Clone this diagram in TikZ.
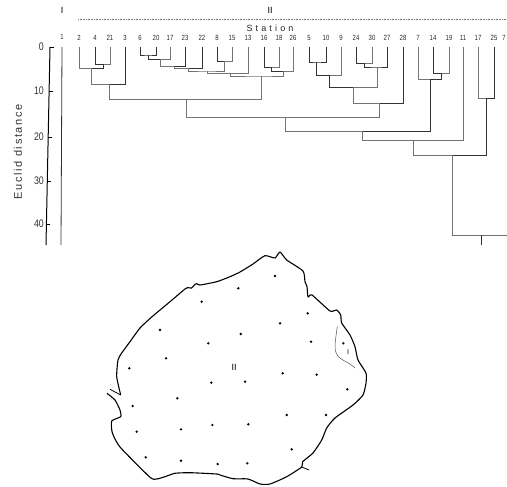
\documentclass[tikz,border=0pt]{standalone}
\usepackage{fontspec}
\setsansfont{Liberation Sans}
\usetikzlibrary{calc}
\def\drawtree{\draw[color=black!55, line width=0.7pt]}
\def\drawdark{\draw[color=black!80, line width=0.8pt]}
\def\drawcoast{\draw[color=black, line width=1.1pt, line join=round]}
\tikzset{
  leaf/.style={inner sep=0pt, color=black!85, font=\sffamily\fontsize{7.5}{7.5}\selectfont\addfontfeatures{FakeStretch=0.8}},
  tickno/.style={inner sep=0pt, anchor=east, color=black!80, font=\sffamily\fontsize{11}{11}\selectfont\addfontfeatures{FakeStretch=0.8}},
  roman/.style={inner sep=0pt, font=\sffamily\fontsize{9}{9}\selectfont},
  station/.style={circle, fill=black, inner sep=0pt, minimum size=2.6pt},
}
\begin{document}
\begin{tikzpicture}[x=1pt,y=-1pt]
\useasboundingbox (0,0) rectangle (507,487);

% ---------- heading and axis
\node[roman] (groupI) at (62,10) {I};
\node[roman] (groupII) at (270,10) {II};
\coordinate (rule_left) at (78,19);
\coordinate (rule_right) at (507,19);
\draw[color=black!55, line width=0.6pt, densely dotted] (rule_left) to (rule_right);
\node[inner sep=0pt, color=black!85, font=\sffamily\fontsize{9}{9}\selectfont\addfontfeatures{LetterSpace=35}] (title) at (270,28) {Station};
\node[rotate=90, inner sep=0pt, color=black!80, font=\sffamily\fontsize{11}{11}\selectfont\addfontfeatures{LetterSpace=15}] (ylabel) at (18,152) {Euclid distance};

\coordinate (axis_top) at (50,47);
\coordinate (axis_bot) at (46,245);
\draw[line width=1pt] (axis_top) to (axis_bot);
\foreach \val/\y/\xa in {0/47/50,10/91/49,20/137/48,30/181/47.5,40/224/46.5} {
  \node[tickno] (tick\val) at (44,\y) {\val};
  \coordinate (tick\val_a) at (\xa,\y);
  \coordinate (tick\val_b) at ($ (tick\val_a) + (3.5,0) $);
  \draw[line width=0.6pt] (tick\val_a) to (tick\val_b);
}

% the line under station 1
\node[leaf] (n1) at (62,37) {1};
\coordinate (s1) at (62,47);
\coordinate (s1_bot) at (61,245);
\drawdark (s1) to (s1_bot);

% ---------- station labels, stems start just below them
\foreach \id/\lab/\x in {2/2/79,4/4/95,21/21/110,3/3/125,6/6/140,20/20/156,17/17/170,
    23/23/185,22/22/202,8/8/217,15/15/232,13/13/248,16/16/264,18/18/279,26/26/293,
    5/5/309,10/10/326,9/9/341,24/24/356,30/30/372,27/27/387,28/28/403,
    7/7/418,14/14/433,19/19/449,11/11/463,17b/17/478,25/25/494,7b/7/504} {
  \node[leaf] (n\id) at (\x,38) {\lab};
  \coordinate (s\id) at (\x,47);
}

% ---------- left block
\coordinate (a1) at (103,64);
\drawdark (s4) |- (a1);
\drawtree (s21) |- (a1);
\coordinate (a2) at (91,68);
\drawtree (s2) |- (a2);
\drawdark (a1) |- (a2);
\coordinate (a3) at (109,84);
\drawtree (a2) |- (a3);
\drawdark (s3) |- (a3);

% ---------- the staircase 6 .. 13
\coordinate (b1) at (148,55);
\drawdark (s6) |- (b1) -| (s20);
\coordinate (b2) at (160,59);
\drawdark (b1) |- (b2);
\drawtree (s17) |- (b2);
\coordinate (b3) at (174,66);
\drawtree (b2) |- (b3);
\drawdark (s23) |- (b3);
\coordinate (b4) at (188,68);
\drawtree (b3) |- (b4);
\drawdark (s22) |- (b4);
\coordinate (b5) at (224,61);
\drawdark (s8) |- (b5);
\drawtree (s15) |- (b5);
\coordinate (b6) at (207,71);
\drawtree (b4) |- (b6) -| (b5);
\coordinate (b7) at (230,73);
\drawtree (b6) |- (b7);
\drawtree (s13) |- (b7);

% ---------- 16 18 26
\coordinate (c1) at (271,67);
\drawdark (s16) |- (c1);
\drawtree (s18) |- (c1);
\coordinate (c2) at (283,71);
\drawdark (c1) |- (c2);
\drawtree (s26) |- (c2);
\coordinate (c3) at (261,76);
\drawtree (b7) |- (c3) -| (c2);

% join of the two left blocks
\coordinate (d1) at (186,99);
\drawtree (a3) |- (d1);
\drawtree (c3) |- (d1);

% ---------- 5 .. 28
\coordinate (e1) at (316,62);
\drawdark (s5) |- (e1) -| (s10);
\coordinate (e2) at (329,75);
\drawdark (e1) |- (e2);
\drawtree (s9) |- (e2);
\coordinate (e3) at (364,63);
\drawdark (s24) |- (e3);
\drawtree (s30) |- (e3);
\coordinate (e4) at (377,67);
\drawdark (e3) |- (e4) -| (s27);
\coordinate (e5) at (353,87);
\drawdark (e2) |- (e5);
\drawtree (e4) |- (e5);
\coordinate (e6) at (379,103);
\drawtree (e5) |- (e6);
\drawdark (s28) |- (e6);

\coordinate (f1) at (285,117);
\drawtree (d1) |- (f1);
\drawtree (e6) |- (f1);

% ---------- 7 14 19 and the right side
\coordinate (g1) at (441,73);
\drawdark (s14) |- (g1);
\drawtree (s19) |- (g1);
\coordinate (g2) at (430,79);
\drawtree (s7) |- (g2);
\drawdark (g1) |- (g2);
\coordinate (h1) at (362,131);
\drawtree (f1) |- (h1);
\drawdark (g2) |- (h1);
\coordinate (h2) at (413,140);
\drawtree (h1) |- (h2);
\drawtree (s11) |- (h2);
\coordinate (g3) at (486,98);
\drawtree (s17b) |- (g3);
\drawdark (s25) |- (g3);
\coordinate (h3) at (452,155);
\drawtree (h2) |- (h3);
\drawdark (g3) |- (h3);
\coordinate (root) at (452,235);
\coordinate (root_end) at (507,235);
\coordinate (root_stem) at (481,235);
\coordinate (root_foot) at (481,245);
\drawtree (h3) to (root);
\drawtree (root) to (root_end);
\drawdark (root_stem) to (root_foot);

% ---------- the map
\drawcoast plot[smooth, tension=0.35] coordinates {
  (120.7,395) (116.7,376.7) (118,360) (121.7,353) (130,341.7) (140,328) (151.7,317)
  (170,301.7) (185,289) (188,287.7) (191.7,288) (195,284.3) (196.7,283.7) (200,285)
  (216.7,281.7) (230,276.7) (240,272) (253,264) (265,255.7) (275,258) (280,252)
  (286.7,260) (303,271) (305,281.7) (307,286.7) (308,297) (312,295) (330,311)
  (336.7,310) (340.7,315) (341.7,323) (350,335) (355,346.7) (358,360) (366,373)
  (366,383) (363,395) (353,405) (335,418) (326.7,428) (321.7,440) (313,453)
  (302.7,461.7) (301.7,467) (286.7,476.7) (270,484) (260,484) (248,479) (233,478.7)
  (220,475) (216.7,474) (190,472.7) (175,473.3) (165,476.7) (156.7,479) (150,477.3)
  (120,447) (112.3,432.7) (111.7,421) (120.7,416.7) (120,410) (115,400) (107,393.3)};
\coordinate (inlet_a) at (110,389.3);
\coordinate (inlet_b) at (120.7,395);
\coordinate (spur_a) at (301.7,467);
\coordinate (spur_b) at (309,470);
\draw[line width=0.8pt] (inlet_a) to (inlet_b);
\draw[line width=0.8pt] (spur_a) to (spur_b);
% border of group I
\draw[color=black!70, line width=0.5pt] plot[smooth, tension=0.5] coordinates {
  (337.3,326.7) (335,346.7) (338.3,356.7) (350,364) (355,368)};

\node[roman] (areaII) at (234,367) {II};
\node[roman, font=\sffamily\fontsize{7}{7}\selectfont] (areaI) at (348,352) {I};

\foreach \x/\y [count=\i] in {238.3/288.3,201.7/301.7,160/330,208.3/343.3,166/358.3,
    275/276,307.7/313.3,280/323.3,240.7/334,311/341.7,343.3/343.3,129.3/368.3,
    211.3/382.7,177.3/398.3,132.7/406,212.3/425,181/429.3,136.7/431.7,145.7/457.3,
    181/460.7,217.7/464,282.7/373.3,316.7/374.7,245/381.7,347.3/389.3,286.7/415,
    326/415,248.3/424.3,291.7/449.3,247.3/463.3} {
  \node[station] (st\i) at (\x,\y) {};
}
\end{tikzpicture}
\end{document}
